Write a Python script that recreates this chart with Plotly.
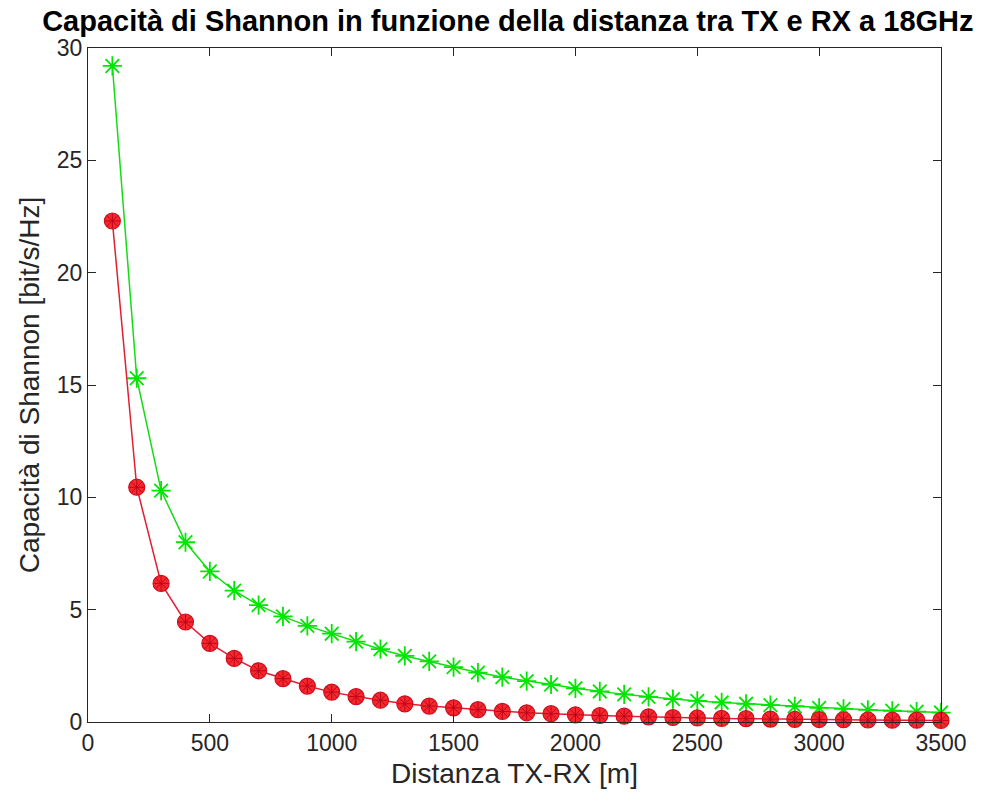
import plotly.graph_objects as go

# Distanza TX-RX [m]
distanza = [100, 200, 300, 400, 500, 600, 700, 800, 900, 1000,
            1100, 1200, 1300, 1400, 1500, 1600, 1700, 1800, 1900, 2000,
            2100, 2200, 2300, 2400, 2500, 2600, 2700, 2800, 2900, 3000,
            3100, 3200, 3300, 3400, 3500]

# Capacità di Shannon [bit/s/Hz], curva superiore (verde)
capacita_verde = [29.2, 15.3, 10.3, 8.0, 6.7, 5.85, 5.2, 4.7, 4.28, 3.93,
                  3.58, 3.24, 2.94, 2.7, 2.44, 2.2, 2.0, 1.82, 1.67, 1.5,
                  1.36, 1.23, 1.12, 1.02, 0.94, 0.87, 0.81, 0.75, 0.70, 0.63,
                  0.58, 0.54, 0.50, 0.46, 0.42]

# Capacità di Shannon [bit/s/Hz], curva inferiore (rossa)
capacita_rossa = [22.3, 10.45, 6.17, 4.45, 3.5, 2.83, 2.28, 1.93, 1.6, 1.33,
                  1.13, 0.97, 0.81, 0.71, 0.63, 0.55, 0.47, 0.41, 0.37, 0.32,
                  0.29, 0.26, 0.23, 0.20, 0.18, 0.16, 0.15, 0.13, 0.12, 0.11,
                  0.10, 0.09, 0.08, 0.08, 0.07]

x_ticks = [0, 500, 1000, 1500, 2000, 2500, 3000, 3500]
y_ticks = [0, 5, 10, 15, 20, 25, 30]

FONT = "Liberation Sans, Arial, sans-serif"
AXIS_COL = "#262626"
VERDE = "rgb(0,230,0)"
ROSSO_STELLA = "rgb(185,0,25)"

fig = go.Figure()

fig.add_trace(go.Scatter(
    x=distanza, y=capacita_verde, mode="lines+markers",
    line=dict(color="rgb(20,220,20)", width=1.5),
    marker=dict(symbol="asterisk-open", size=16, color=VERDE,
                line=dict(color=VERDE, width=1.8)),
    cliponaxis=False, showlegend=False,
))

fig.add_trace(go.Scatter(
    x=distanza, y=capacita_rossa, mode="lines+markers",
    line=dict(color="rgb(225,30,50)", width=1.5),
    marker=dict(symbol="circle", size=16, color="rgb(245,40,45)",
                line=dict(color="rgb(205,15,30)", width=1.2)),
    cliponaxis=False, showlegend=False,
))

fig.add_trace(go.Scatter(
    x=distanza, y=capacita_rossa, mode="markers",
    marker=dict(symbol="asterisk-open", size=12, color=ROSSO_STELLA,
                line=dict(color=ROSSO_STELLA, width=0.9)),
    cliponaxis=False, showlegend=False,
))

axis_common = dict(
    showline=True, linecolor=AXIS_COL, linewidth=1.3, mirror="ticks",
    ticks="inside", ticklen=8, tickwidth=1.3, tickcolor=AXIS_COL,
    showgrid=False, zeroline=False,
    tickfont=dict(family=FONT, size=23, color=AXIS_COL),
)

fig.update_layout(
    width=988, height=805,
    margin=dict(l=88, r=47, t=48, b=83),
    paper_bgcolor="white", plot_bgcolor="white",
    title=dict(
        text="<b>Capacità di Shannon in funzione della distanza tra TX e RX a 18GHz</b>",
        font=dict(family=FONT, size=29, color="black"),
        x=0.514, xanchor="center", y=0.974, yanchor="middle",
    ),
    xaxis=dict(
        range=[0, 3500], tickvals=x_ticks,
        title=dict(text="Distanza TX-RX [m]", standoff=8,
                   font=dict(family=FONT, size=28, color=AXIS_COL)),
        **axis_common,
    ),
    yaxis=dict(
        range=[0, 30], tickvals=y_ticks,
        title=dict(text="Capacità di Shannon [bit/s/Hz]", standoff=8,
                   font=dict(family=FONT, size=28, color=AXIS_COL)),
        **axis_common,
    ),
)

fig.write_html("out.html")
